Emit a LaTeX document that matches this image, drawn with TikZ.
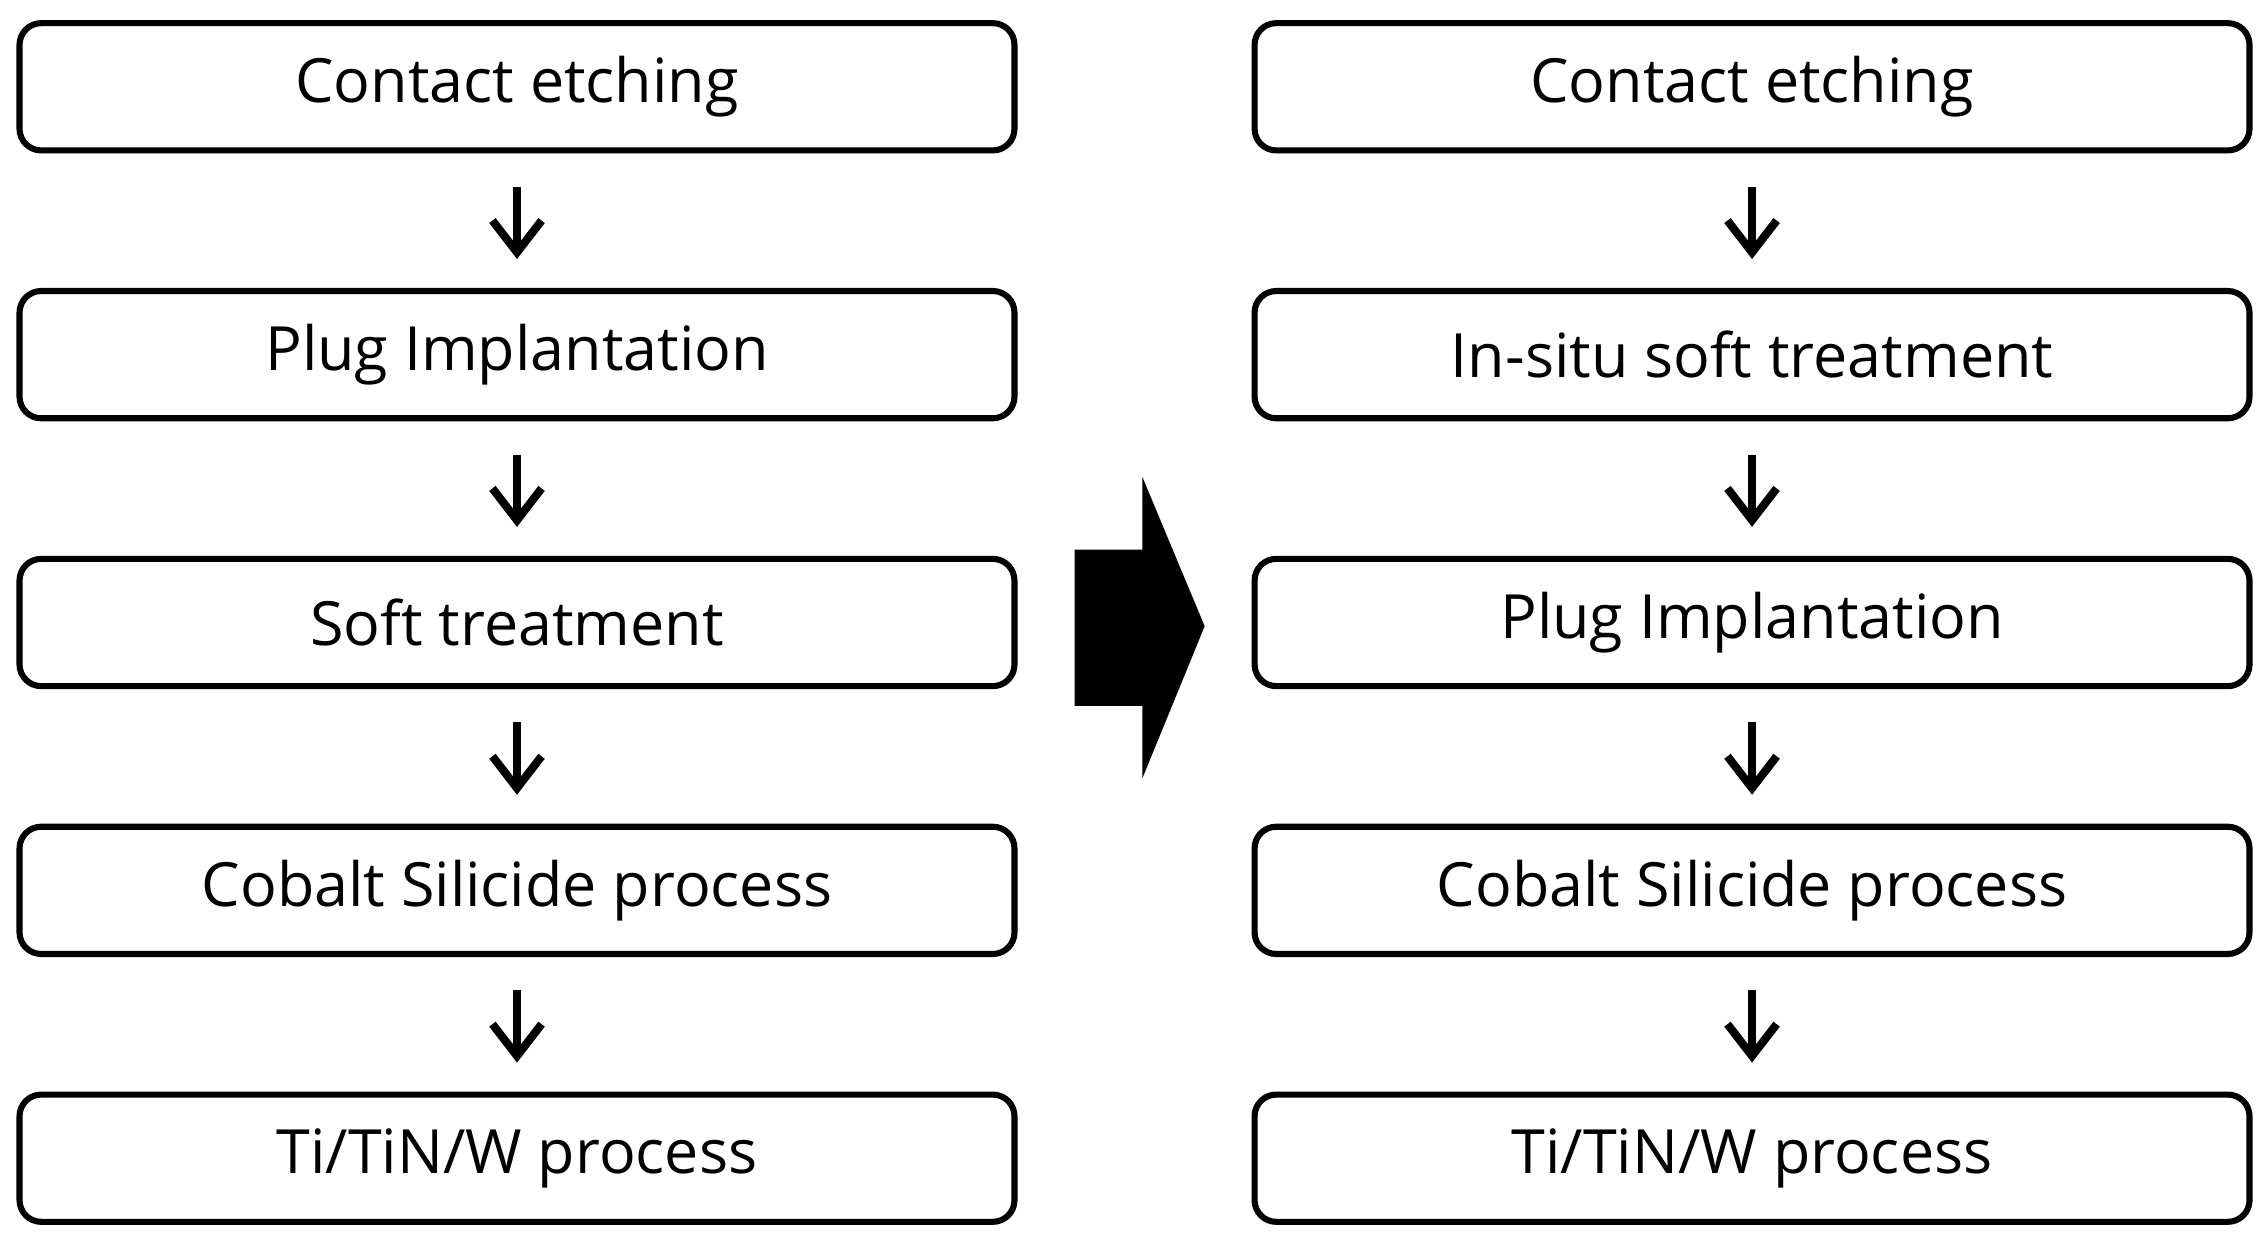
\documentclass[tikz,border=0pt]{standalone}
\usepackage{fontspec}
\setmainfont{Open Sans}
\usetikzlibrary{positioning,arrows.meta}
\tikzstyle{stage}=[draw, line width=1.2pt, rounded corners=0.15cm, rectangle, minimum height=0.88cm, minimum width=6.88cm, inner sep=0pt, font=\fontsize{12}{14}\selectfont]
\tikzstyle{flow}=[-{Straight Barb[length=2.2mm,width=3.4mm]}, line width=1.6pt, shorten <=0.23cm, shorten >=0.2cm]
\begin{document}
\begin{tikzpicture}[node distance=0.93cm]
  \useasboundingbox (0,0) rectangle (15.6,-8.54);
  % before
  \node[stage] (a1) at (3.575,-0.60) {Contact etching};
  \node[stage, below=of a1] (a2) {Plug Implantation};
  \node[stage, below=of a2] (a3) {Soft treatment};
  \node[stage, below=of a3] (a4) {Cobalt Silicide process};
  \node[stage, below=of a4] (a5) {Ti/TiN/W process};
  % after
  \node[stage] (b1) at (12.115,-0.60) {Contact etching};
  \node[stage, below=of b1] (b2) {In-situ soft treatment};
  \node[stage, below=of b2] (b3) {Plug Implantation};
  \node[stage, below=of b3] (b4) {Cobalt Silicide process};
  \node[stage, below=of b4] (b5) {Ti/TiN/W process};
  \foreach \i/\j in {1/2,2/3,3/4,4/5} {
    \draw[flow] (a\i) -- (a\j);
    \draw[flow] (b\i) -- (b\j);
  }
  % big arrow
  \fill (7.43,-3.80) -- (7.90,-3.80) -- (7.90,-3.30) -- (8.33,-4.33)
        -- (7.90,-5.38) -- (7.90,-4.88) -- (7.43,-4.88) -- cycle;
\end{tikzpicture}
\end{document}
